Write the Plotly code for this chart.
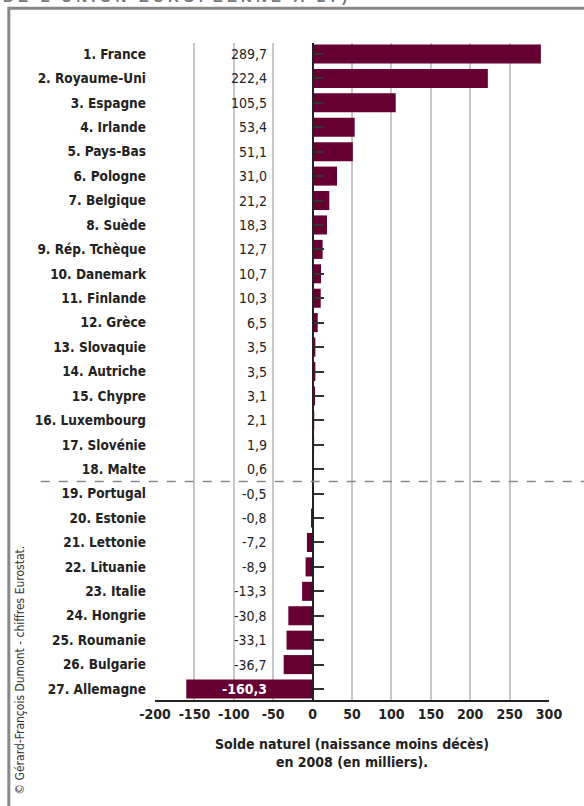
import plotly.graph_objects as go

countries = ["1. France", "2. Royaume-Uni", "3. Espagne", "4. Irlande", "5. Pays-Bas",
             "6. Pologne", "7. Belgique", "8. Suède", "9. Rép. Tchèque", "10. Danemark",
             "11. Finlande", "12. Grèce", "13. Slovaquie", "14. Autriche", "15. Chypre",
             "16. Luxembourg", "17. Slovénie", "18. Malte", "19. Portugal", "20. Estonie",
             "21. Lettonie", "22. Lituanie", "23. Italie", "24. Hongrie", "25. Roumanie",
             "26. Bulgarie", "27. Allemagne"]
values = [289.7, 222.4, 105.5, 53.4, 51.1, 31.0, 21.2, 18.3, 12.7, 10.7, 10.3, 6.5, 3.5,
          3.5, 3.1, 2.1, 1.9, 0.6, -0.5, -0.8, -7.2, -8.9, -13.3, -30.8, -33.1, -36.7, -160.3]
x_ticks = [-200, -150, -100, -50, 0, 50, 100, 150, 200, 250, 300]

BAR = "#660033"
FONT = "DejaVu Sans Condensed, Roboto, sans-serif"

fig = go.Figure()
fig.add_trace(go.Bar(x=values, y=countries, orientation="h", marker_color=BAR,
                     marker_line_width=0, hoverinfo="x+y"))
fig.add_trace(go.Scatter(x=[0] * len(countries), y=countries, yaxis="y2", mode="markers",
                         marker=dict(opacity=0), hoverinfo="skip", showlegend=False))

for c, v in zip(countries, values):
    fig.add_annotation(x=-55, y=c, xref="x", yref="y", xanchor="right", yanchor="middle",
                       text=f"{v:.1f}".replace(".", ","), showarrow=False,
                       font=dict(family=FONT, size=14,
                                 color="white" if v < -55 else "#222",
                                 weight="bold" if v < -55 else "normal"))

# separator between positive and negative natural balance
fig.add_shape(type="line", xref="paper", yref="y", x0=-0.29, x1=1.1, y0=17.5, y1=17.5,
              line=dict(color="#888", width=1.5, dash="dash"))

# frame
fig.add_shape(type="line", xref="paper", yref="paper", x0=-0.37, x1=1.1, y0=1.053, y1=1.053,
              line=dict(color="#888", width=3))
fig.add_shape(type="line", xref="paper", yref="paper", x0=-0.371, x1=-0.371, y0=-0.2, y1=1.055,
              line=dict(color="#888", width=3))

# cut title at the very top
fig.add_annotation(xref="paper", yref="paper", x=-0.39, y=1.0715, xanchor="left", yanchor="middle",
                   text="D E   L ' U N I O N   E U R O P É E N N E   À   2 7 )", showarrow=False,
                   font=dict(family="Liberation Sans", size=15, color="#777", weight="bold"))

# copyright
fig.add_annotation(xref="paper", yref="paper", x=-0.343, y=0.046, xanchor="center", yanchor="middle",
                   text="© Gérard-François Dumont - chiffres Eurostat.", textangle=-90, showarrow=False,
                   font=dict(family=FONT, size=12, color="#333"))

fig.update_layout(
    width=584, height=806,
    margin=dict(l=155, r=35, t=43, b=106),
    paper_bgcolor="white", plot_bgcolor="white",
    bargap=0.22, showlegend=False,
    xaxis=dict(range=[-200, 300], tickvals=x_ticks, ticktext=[str(t) for t in x_ticks],
               showgrid=True, gridcolor="#c6c6cc", gridwidth=2, zeroline=False,
               showline=True, linecolor="#222", linewidth=2, ticks="", automargin=False,
               tickangle=0,
               tickfont=dict(family=FONT, size=14, color="#222", weight="bold"),
               title=dict(text="Solde naturel (naissance moins décès)<br>en 2008 (en milliers).",
                          font=dict(family=FONT, size=14, color="#222", weight="bold"),
                          standoff=18)),
    yaxis=dict(type="category", categoryorder="array", categoryarray=countries,
               range=[26.45, -0.45], showgrid=False, zeroline=False, showline=False, ticks="",
               ticklabelstandoff=8, automargin=False,
               tickfont=dict(family=FONT, size=13.5, color="#222", weight="bold")),
    yaxis2=dict(type="category", categoryorder="array", categoryarray=countries,
                range=[26.45, -0.45], overlaying="y", anchor="free", position=0.4, side="right",
                showgrid=False, zeroline=False, showline=True, linecolor="#222", linewidth=2,
                ticks="outside", ticklen=10, tickwidth=2, tickcolor="#333",
                showticklabels=False, automargin=False),
)

fig.write_html("out.html", config={"displayModeBar": False},
               post_script="document.body.style.margin='0';")
